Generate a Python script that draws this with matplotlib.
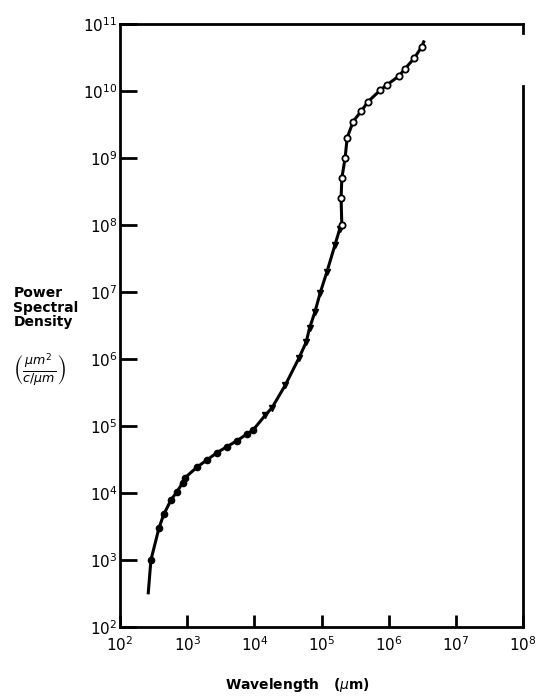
import matplotlib.pyplot as plt
import numpy as np

# lower branch (filled dots)
dot_x = [288, 380, 447, 575, 708, 851, 933, 1410, 1950, 2750, 3890, 5500, 7760, 9550]
dot_y = [1000, 3020, 4790, 7940, 1.05e4, 1.42e4, 1.7e4, 2.45e4, 3.09e4, 3.98e4,
         4.9e4, 6.03e4, 7.59e4, 8.7e4]
# middle branch (triangles)
tri_x = [1.45e4, 1.82e4, 2.88e4, 4.57e4, 5.89e4, 6.61e4, 7.94e4, 9.55e4, 1.2e5,
         1.58e5, 1.86e5]
tri_y = [1.45e5, 1.86e5, 4.07e5, 1.02e6, 1.78e6, 2.88e6, 5.01e6, 9.77e6, 2.0e7,
         5.01e7, 8.71e7]
# upper branch (open circles)
circ_x = [2.0e5, 1.95e5, 2.0e5, 2.24e5, 2.4e5, 2.95e5, 3.89e5, 4.9e5, 7.41e5,
          9.33e5, 1.41e6, 1.74e6, 2.4e6, 3.09e6]
circ_y = [1e8, 2.5e8, 5e8, 1e9, 2.0e9, 3.5e9, 5e9, 6.9e9, 1.02e10, 1.23e10,
          1.66e10, 2.14e10, 3.09e10, 4.57e10]
# curve ends (no marker)
start_x, start_y = 263, 324
end_x, end_y = 3.31e6, 5.4e10

line_x = [start_x] + dot_x + tri_x + circ_x + [end_x]
line_y = [start_y] + dot_y + tri_y + circ_y + [end_y]

fig = plt.figure(figsize=(5.36, 6.98), dpi=100)
ax = fig.add_axes([0.224, 0.1017, 0.752, 0.864])

ax.plot(line_x, line_y, '-', color='black', linewidth=2.2, zorder=2)
ax.plot(dot_x, dot_y, 'o', color='black', markersize=4.5, zorder=3)
ax.plot(tri_x, tri_y, 'v', color='black', markersize=4.5, zorder=3)
ax.plot(circ_x, circ_y, 'o', markerfacecolor='white', markeredgecolor='black',
        markeredgewidth=1.3, markersize=4.5, zorder=3)

ax.set_xscale('log')
ax.set_yscale('log')
ax.set_xlim(1e2, 1e8)
ax.set_ylim(1e2, 1e11)

xt = [10.0**k for k in range(2, 9)]
yt = [10.0**k for k in range(2, 12)]
ax.set_xticks(xt)
ax.set_xticklabels([f'$10^{{{k}}}$' for k in range(2, 9)])
ax.set_yticks(yt)
ax.set_yticklabels([f'$10^{{{k}}}$' for k in range(2, 12)])
ax.minorticks_off()
ax.tick_params(axis='y', direction='in', length=12, width=2, labelsize=11, pad=2)
ax.tick_params(axis='x', direction='in', length=9, width=2, labelsize=11, pad=6)

for s in ax.spines.values():
    s.set_linewidth(2)
ax.spines['right'].set_bounds(1e2, 1.2e10)
ax.plot([1, 1], [1, 0.985], transform=ax.transAxes, color='black',
        linewidth=2, clip_on=False)

fig.text(0.025, 0.59, 'Power\nSpectral\nDensity', fontsize=10, fontweight='bold',
         ha='left', va='top', linespacing=1.05)
fig.text(0.025, 0.47, r'$\left(\frac{\mu m^2}{c/\mu m}\right)$', fontsize=13,
         ha='left', va='center')
fig.text(0.555, 0.018, r'Wavelength   ($\mu$m)', fontsize=10, fontweight='bold',
         ha='center', va='center')

plt.savefig('out.png', dpi=100)
